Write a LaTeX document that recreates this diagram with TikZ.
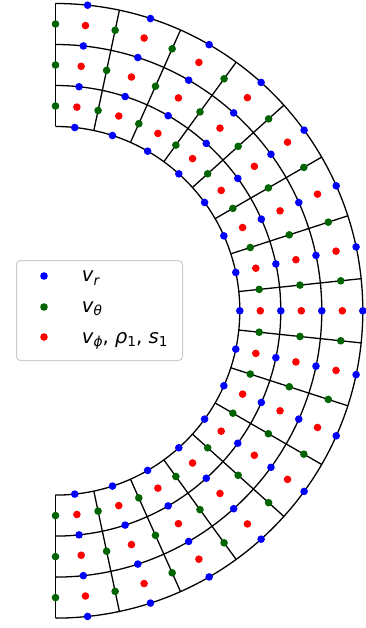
\documentclass[tikz,border=0pt]{standalone}
\usepackage{fontspec}
\setmainfont{DejaVu Sans}
\newcommand\lsub[1]{\raisebox{-3.3pt}{\fontsize{13.7pt}{14pt}\selectfont #1}}
\definecolor{vrcol}{RGB}{0,0,255}
\definecolor{vtcol}{RGB}{0,100,0}
\definecolor{vpcol}{RGB}{255,0,0}
\definecolor{legframe}{RGB}{204,204,204}
\tikzset{
  gridline/.style={line width=1.3pt, black},
  vrdot/.style={fill=vrcol},
  vtdot/.style={fill=vtcol},
  vpdot/.style={fill=vpcol},
  legmark/.style={circle, inner sep=0pt, minimum size=7.6pt},
  legtext/.style={anchor=base west, inner sep=0pt, font=\fontsize{19.6pt}{20pt}\selectfont},
}
\begin{document}
\begin{tikzpicture}[x=1pt,y=-1pt]
\useasboundingbox (0,0) rectangle (366,628);
\begin{scope}[shift={(55.5,310.8)}]
  % circles
  \foreach \k in {0,...,3}{
    \pgfmathsetmacro\R{184.3+41*\k}
    \draw[gridline] (-90:\R) arc[start angle=-90,end angle=90,radius=\R];
  }
  % radial lines
  \foreach \j in {0,...,15}{
    \pgfmathsetmacro\a{90-12*\j}
    \draw[gridline] (\a:184.3) -- (\a:307.3);
  }
  % v_r on circles
  \foreach \k in {0,...,3}{
    \foreach \j in {0,...,14}{
      \pgfmathsetmacro\R{184.3+41*\k}
      \pgfmathsetmacro\a{84-12*\j}
      \fill[vrdot] (\a:\R) circle[radius=3.8];
    }
  }
  % v_theta on radial lines
  \foreach \m in {0,...,2}{
    \foreach \j in {0,...,15}{
      \pgfmathsetmacro\R{204.8+41*\m}
      \pgfmathsetmacro\a{90-12*\j}
      \fill[vtdot] (\a:\R) circle[radius=3.8];
    }
  }
  % cell centres
  \foreach \m in {0,...,2}{
    \foreach \j in {0,...,14}{
      \pgfmathsetmacro\R{204.8+41*\m}
      \pgfmathsetmacro\a{84-12*\j}
      \fill[vpdot] (\a:\R) circle[radius=3.8];
    }
  }
\end{scope}
% legend
\node[draw=legframe, line width=1pt, rounded corners=4pt, fill=white,
      minimum width=166pt, minimum height=100pt, anchor=north west, inner sep=0pt]
      (legend) at (16,260) {};
\node[legmark, fill=vrcol] (m1) at (44,276) {};
\node[legmark, fill=vtcol] (m2) at (44,307) {};
\node[legmark, fill=vpcol] (m3) at (44,337) {};
\node[legtext] (t1) at (81.7,281.7) {\itshape v\lsub{r}};
\node[legtext] (t2) at (81.7,312.3) {\itshape v\lsub{θ}};
\node[legtext] (t3) at (81.7,343.0) {{\itshape v\lsub{ϕ}}, {\itshape ρ}\lsub{1}, {\itshape s}\lsub{1}};
\end{tikzpicture}
\end{document}
